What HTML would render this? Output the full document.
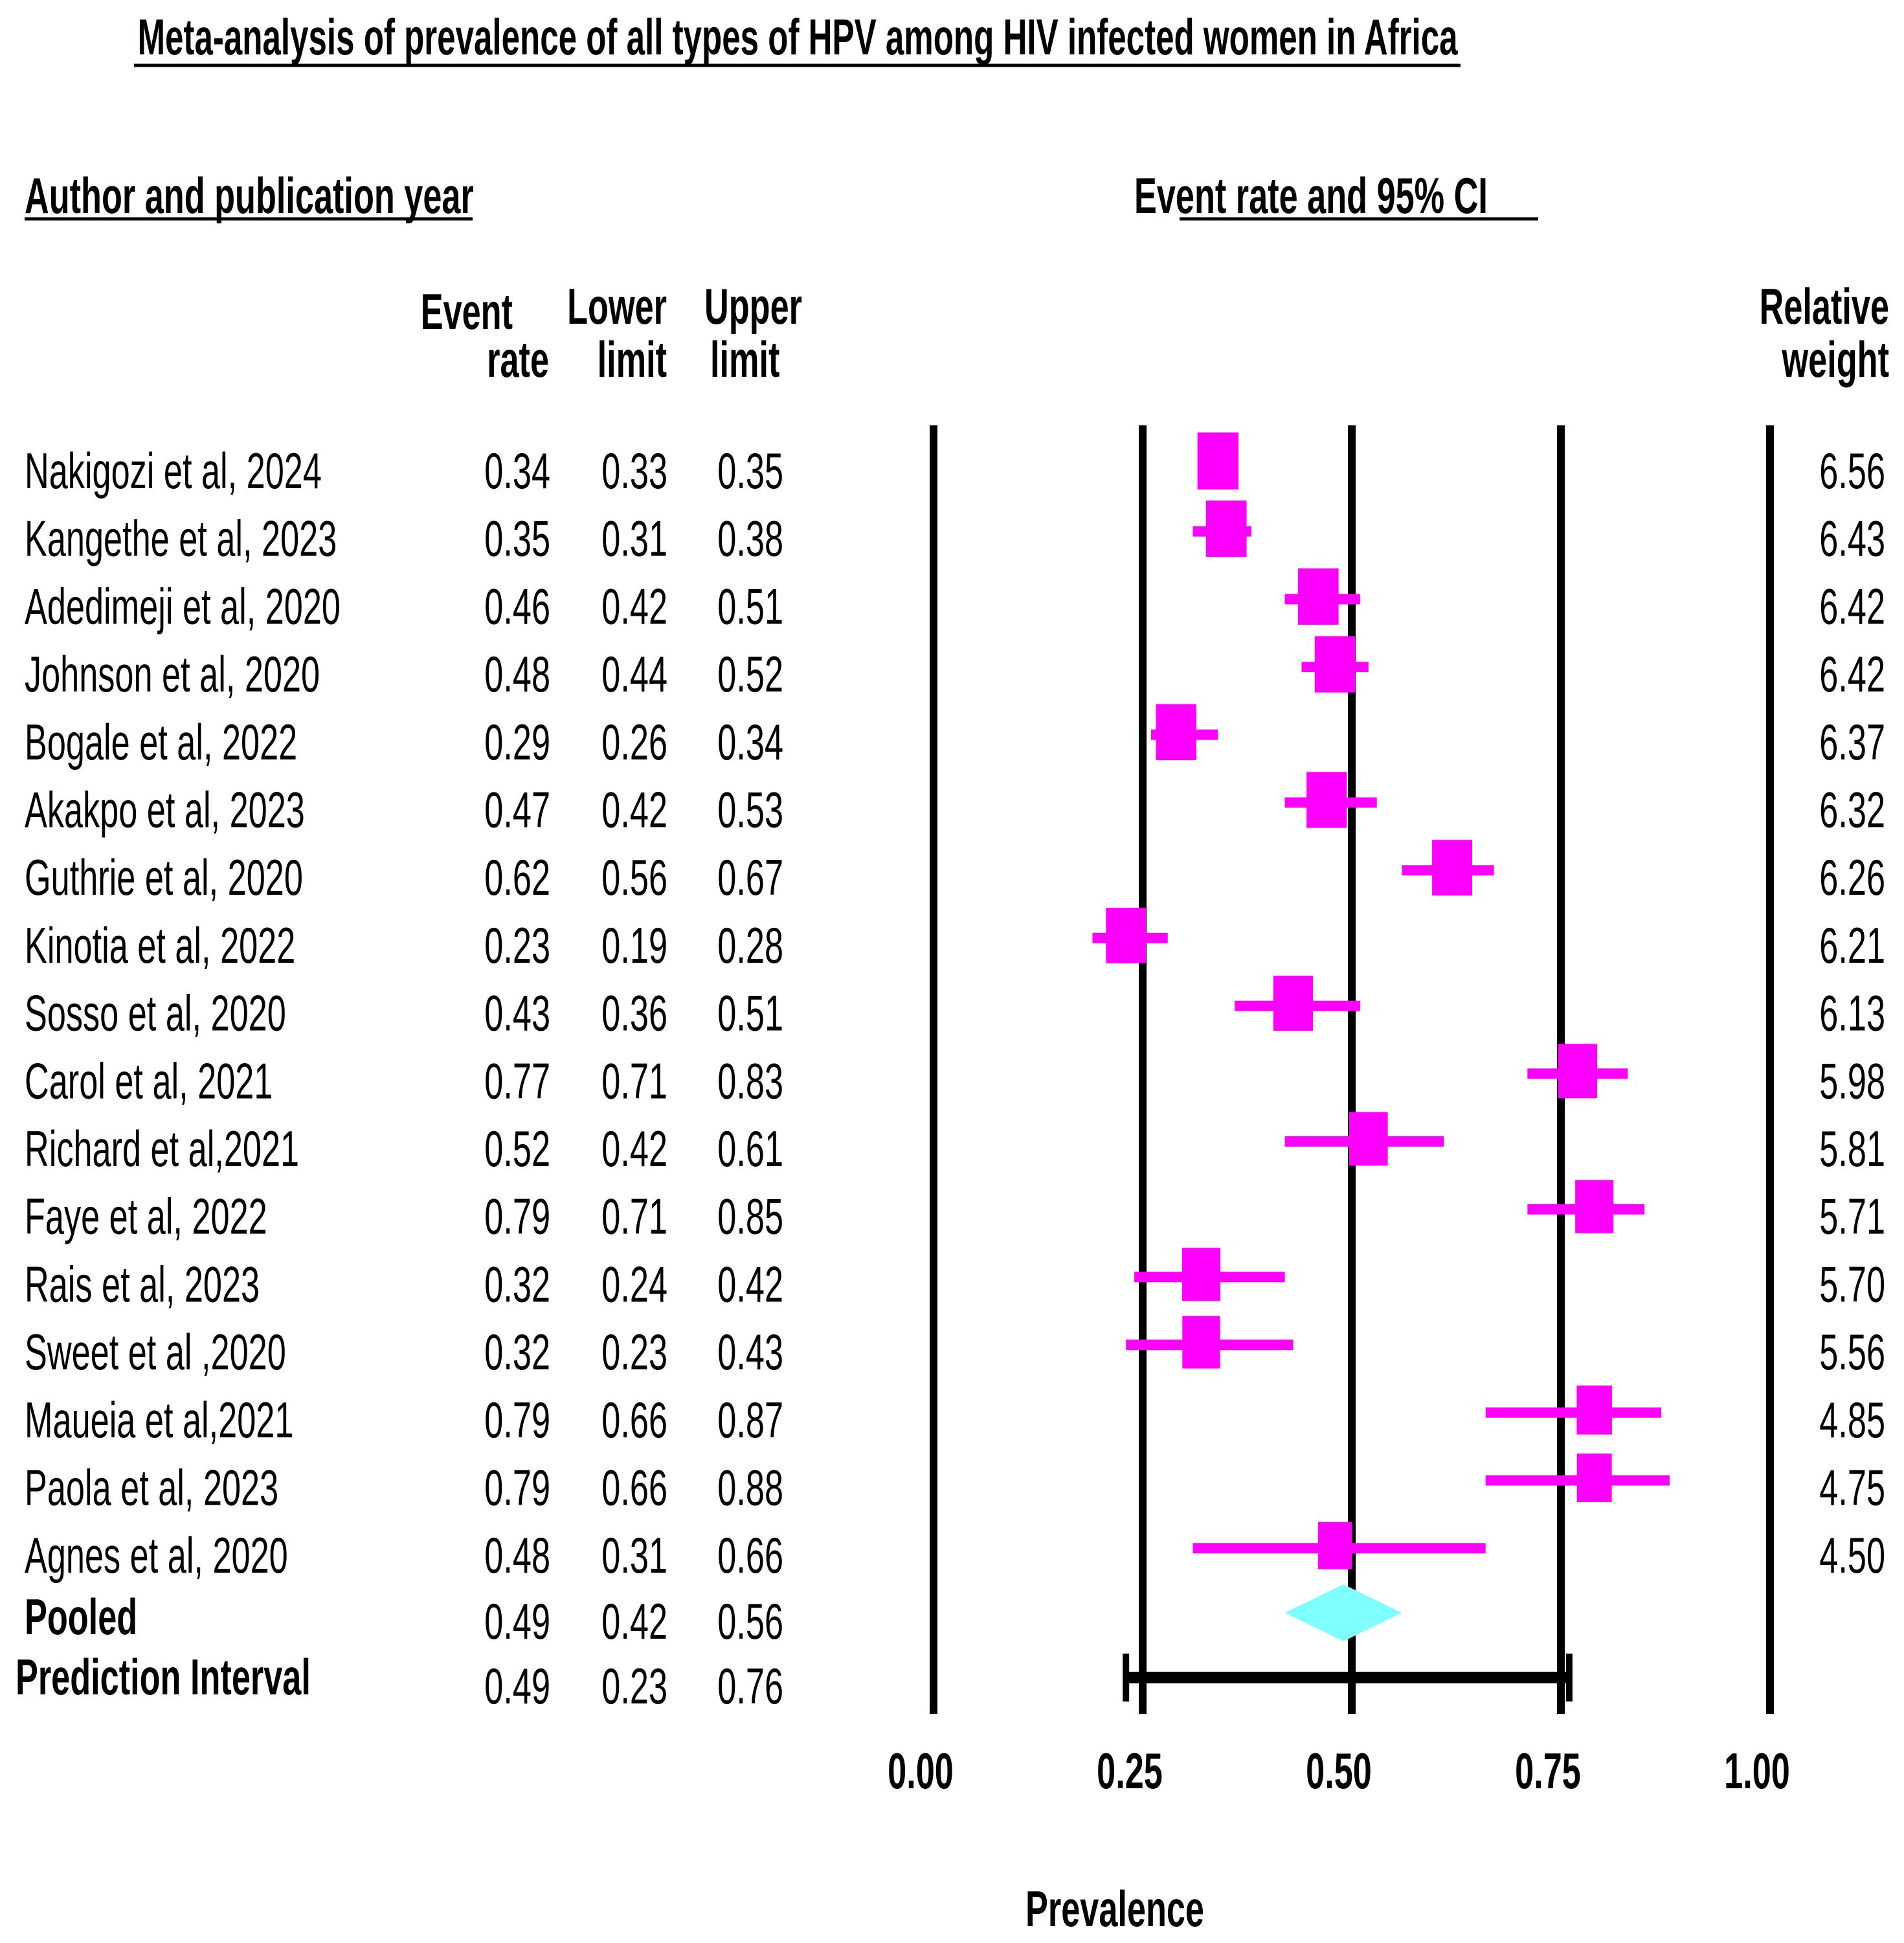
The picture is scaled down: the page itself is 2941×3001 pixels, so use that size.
<!DOCTYPE html>
<html><head><meta charset="utf-8"><style>
html,body{margin:0;padding:0;background:#fff;}
svg{display:block;font-family:"Liberation Sans",sans-serif;}
</style></head><body>
<svg id="chart" width="2941" height="3001" viewBox="0 0 2941 3001" xmlns="http://www.w3.org/2000/svg">
<rect width="2941" height="3001" fill="#fff"/>
<g id="axes"></g>
<g id="marks"></g>
<g id="texts"></g>
</svg>
<script>
const studies = ["Nakigozi et al, 2024","Kangethe et al, 2023","Adedimeji et al, 2020","Johnson et al, 2020","Bogale et al, 2022","Akakpo et al, 2023","Guthrie et al, 2020","Kinotia et al, 2022","Sosso et al, 2020","Carol et al, 2021","Richard et al,2021","Faye et al, 2022","Rais et al, 2023","Sweet et al ,2020","Maueia et al,2021","Paola et al, 2023","Agnes et al, 2020"];
const rates = [0.34,0.35,0.46,0.48,0.29,0.47,0.62,0.23,0.43,0.77,0.52,0.79,0.32,0.32,0.79,0.79,0.48];
const lowers = [0.33,0.31,0.42,0.44,0.26,0.42,0.56,0.19,0.36,0.71,0.42,0.71,0.24,0.23,0.66,0.66,0.31];
const uppers = [0.35,0.38,0.51,0.52,0.34,0.53,0.67,0.28,0.51,0.83,0.61,0.85,0.42,0.43,0.87,0.88,0.66];
const weights = [6.56,6.43,6.42,6.42,6.37,6.32,6.26,6.21,6.13,5.98,5.81,5.71,5.70,5.56,4.85,4.75,4.50];
const pooled = [0.49,0.42,0.56];
const predInterval = [0.49,0.23,0.76];
const ticks = [0,0.25,0.5,0.75,1];
const tickLabels = ["0.00","0.25","0.50","0.75","1.00"];

const NS="http://www.w3.org/2000/svg";
const X0=1442,X1=2734;
function xs(v){return X0+(X1-X0)*v;}
function rowY(i){return 712+104.7*i;}
const axes=document.getElementById('axes');
const marks=document.getElementById('marks');
const texts=document.getElementById('texts');
function mk(tag,parent,attrs){const e=document.createElementNS(NS,tag);for(const k in attrs)e.setAttribute(k,attrs[k]);parent.appendChild(e);return e;}
function txt(s,x,y,anchor,bold,size,sx){
  const t=mk('text',texts,{transform:`translate(${x},${y}) scale(${sx||0.67},1)`,'text-anchor':anchor||'start','font-size':size||78,'font-weight':bold?'bold':'normal',fill:'#000'});
  t.textContent=s;return t;
}
ticks.forEach((v,i)=>{
  const l=mk('line',axes,{x1:xs(v),x2:xs(v),y1:657,y2:2647,stroke:'#000','stroke-width':12});
  
  
  const t=txt(tickLabels[i],xs(v)-20,2762,'middle',true);
  
  
});
studies.forEach((s,i)=>{
  const y=rowY(i);
  const w=mk('line',marks,{x1:xs(lowers[i]),x2:xs(uppers[i]),y1:y+4,y2:y+4,stroke:'#ff00ff','stroke-width':16});
  
  
  const h=88*Math.sqrt(weights[i]/6.56), bw=h*0.72;
  const r=mk('rect',marks,{x:xs(rates[i])-bw/2,y:y-h/2,width:bw,height:h,fill:'#ff00ff'});
  
  
  const b=y+42;
  let t=txt(s,38,b);
  
  
  t=txt(rates[i].toFixed(2),850,b,'end');
  
  
  t=txt(lowers[i].toFixed(2),1031,b,'end');
  
  
  t=txt(uppers[i].toFixed(2),1210,b,'end');
  
  
  t=txt(weights[i].toFixed(2),2912,b,'end');
  
  
});
const py=2491;
const d=mk('polygon',marks,{points:`${xs(pooled[1])},${py} ${xs(pooled[0])},${py-44} ${xs(pooled[2])},${py} ${xs(pooled[0])},${py+44}`,fill:'#80ffff'});


let t=txt('Pooled',38,py+33,'start',true);


[pooled[0],pooled[1],pooled[2]].forEach((v,k)=>{const tt=txt(v.toFixed(2),[850,1031,1210][k],py+40,'end');
 
 });
const qy=2591;
const pl=mk('line',marks,{x1:xs(predInterval[1]),x2:xs(predInterval[2]),y1:qy,y2:qy,stroke:'#000','stroke-width':18});


[predInterval[1],predInterval[2]].forEach(v=>{const c=mk('line',marks,{x1:xs(v),x2:xs(v),y1:2554,y2:2628,stroke:'#000','stroke-width':10});
 
 });
t=txt('Prediction Interval',24,2617,'start',true);


[predInterval[0],predInterval[1],predInterval[2]].forEach((v,k)=>{const tt=txt(v.toFixed(2),[850,1031,1210][k],qy+40,'end');
 
 });
t=txt('Meta-analysis of prevalence of all types of HPV among HIV infected women in Africa',1232,84,'middle',true,78,0.655);


let u=mk('line',texts,{x1:207,x2:2256,y1:101,y2:101,stroke:'#000','stroke-width':5});


t=txt('Author and publication year',38,329,'start',true);


u=mk('line',texts,{x1:38,x2:730,y1:338,y2:338,stroke:'#000','stroke-width':5});


t=txt('Event rate and 95% CI',1752,329,'start',true);


u=mk('line',texts,{x1:1822,x2:2376,y1:338,y2:338,stroke:'#000','stroke-width':5});


[['Event',792,508,'end'],['rate',848,582,'end'],['Lower',1030,500,'end'],['limit',1030,582,'end'],['Upper',1088,500,'start'],['limit',1097,582,'start'],['Relative',2918,500,'end'],['weight',2918,582,'end']].forEach(h=>{
  const tt=txt(h[0],h[1],h[2],h[3],true);
  
  
});
t=txt('Prevalence',1722,2975,'middle',true);


</script>
</body></html>
